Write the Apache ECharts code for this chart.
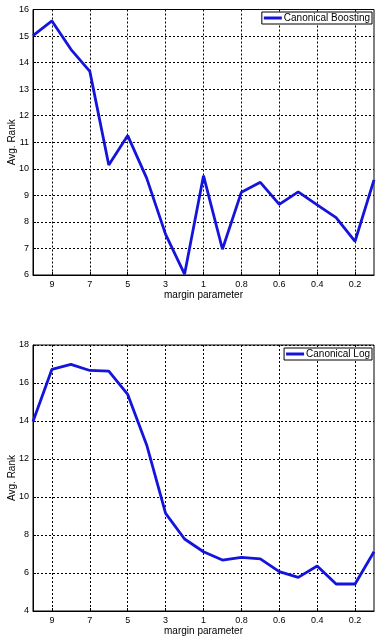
<!DOCTYPE html>
<html>
<head>
<meta charset="utf-8">
<script src="https://cdn.jsdelivr.net/npm/echarts@6/dist/echarts.min.js"></script>
<style>html,body{margin:0;padding:0;background:#fff;}#c{width:382px;height:639px;}</style>
</head>
<body>
<div id="c"></div>
<script>
const categories = ['10','9','8','7','6','5','4','3','2','1','0.9','0.8','0.7','0.6','0.5','0.4','0.3','0.2','0.1'];
const boostingValues = [15.02,15.57,14.5,13.67,10.14,11.25,9.65,7.53,6.03,9.74,6.97,9.12,9.49,8.66,9.13,8.64,8.16,7.27,9.58];
const logValues = [13.97,16.72,16.98,16.66,16.62,15.4,12.74,9.14,7.79,7.12,6.68,6.82,6.74,6.07,5.77,6.37,5.42,5.42,7.12];
const seriesNames = ['Canonical Boosting','Canonical Log'];
const xAxisName = 'margin parameter';
const yAxisName = 'Avg. Rank';

const FONT = 'Liberation Sans, Arial, sans-serif';
const BLUE = '#1414dc';
const showIdx = (i) => i % 2 === 1;
function xAx(gi){
  return {
    gridIndex: gi, type: 'category', data: categories, boundaryGap: false,
    name: xAxisName, nameLocation: 'middle', nameGap: 15, nameMoveOverlap: false,
    nameTextStyle: {fontFamily: FONT, fontSize: 10, color: '#000'},
    axisLine: {lineStyle: {color: '#000', width: 1}},
    axisTick: {show: true, inside: true, length: 3, interval: showIdx, lineStyle: {color: '#000'}},
    axisLabel: {interval: showIdx, fontFamily: FONT, fontSize: 9, color: '#000', margin: 5},
    splitLine: {show: true, interval: showIdx, lineStyle: {color: '#000', type: [2,2], width: 1}}
  };
}
function yAx(gi, min, max, step){
  return {
    gridIndex: gi, type: 'value', min: min, max: max, interval: step,
    name: yAxisName, nameLocation: 'middle', nameGap: 16, nameMoveOverlap: false,
    nameTextStyle: {fontFamily: FONT, fontSize: 10, color: '#000'},
    axisLine: {show: true, lineStyle: {color: '#000', width: 1}},
    axisTick: {show: true, inside: true, length: 3, lineStyle: {color: '#000'}},
    axisLabel: {fontFamily: FONT, fontSize: 9, color: '#000', margin: 4},
    splitLine: {show: true, lineStyle: {color: '#000', type: [2,2], width: 1}}
  };
}
function leg(name, top, right){
  return {
    data: [name], top: top, right: right, orient: 'horizontal',
    icon: 'rect', itemWidth: 18, itemHeight: 3, itemGap: 2,
    borderColor: '#000', borderWidth: 1, padding: [1,2,1,2], borderRadius: 0,
    backgroundColor: '#fff',
    textStyle: {fontFamily: FONT, fontSize: 10, color: '#000', padding: [0,0,0,-3]},
    selectedMode: false
  };
}
const chart = echarts.init(document.getElementById('c'), null, {renderer: 'canvas'});
chart.setOption({
  animation: false,
  backgroundColor: '#fff',
  grid: [
    {left: 33, right: 8, top: 9.5, height: 265.5, show: true, borderColor: '#000', borderWidth: 1, backgroundColor: 'transparent', containLabel: false, outerBoundsMode: 'none'},
    {left: 33, right: 8, top: 345, height: 266, show: true, borderColor: '#000', borderWidth: 1, backgroundColor: 'transparent', containLabel: false, outerBoundsMode: 'none'}
  ],
  xAxis: [xAx(0), xAx(1)],
  yAxis: [yAx(0, 6, 16, 1), yAx(1, 4, 18, 2)],
  legend: [leg(seriesNames[0], 12, 10), leg(seriesNames[1], 348, 10)],
  series: [
    {name: seriesNames[0], type: 'line', xAxisIndex: 0, yAxisIndex: 0, data: boostingValues,
     showSymbol: false, lineStyle: {color: BLUE, width: 2.8}, itemStyle: {color: BLUE}},
    {name: seriesNames[1], type: 'line', xAxisIndex: 1, yAxisIndex: 1, data: logValues,
     showSymbol: false, lineStyle: {color: BLUE, width: 2.8}, itemStyle: {color: BLUE}}
  ]
});
</script>
</body>
</html>
